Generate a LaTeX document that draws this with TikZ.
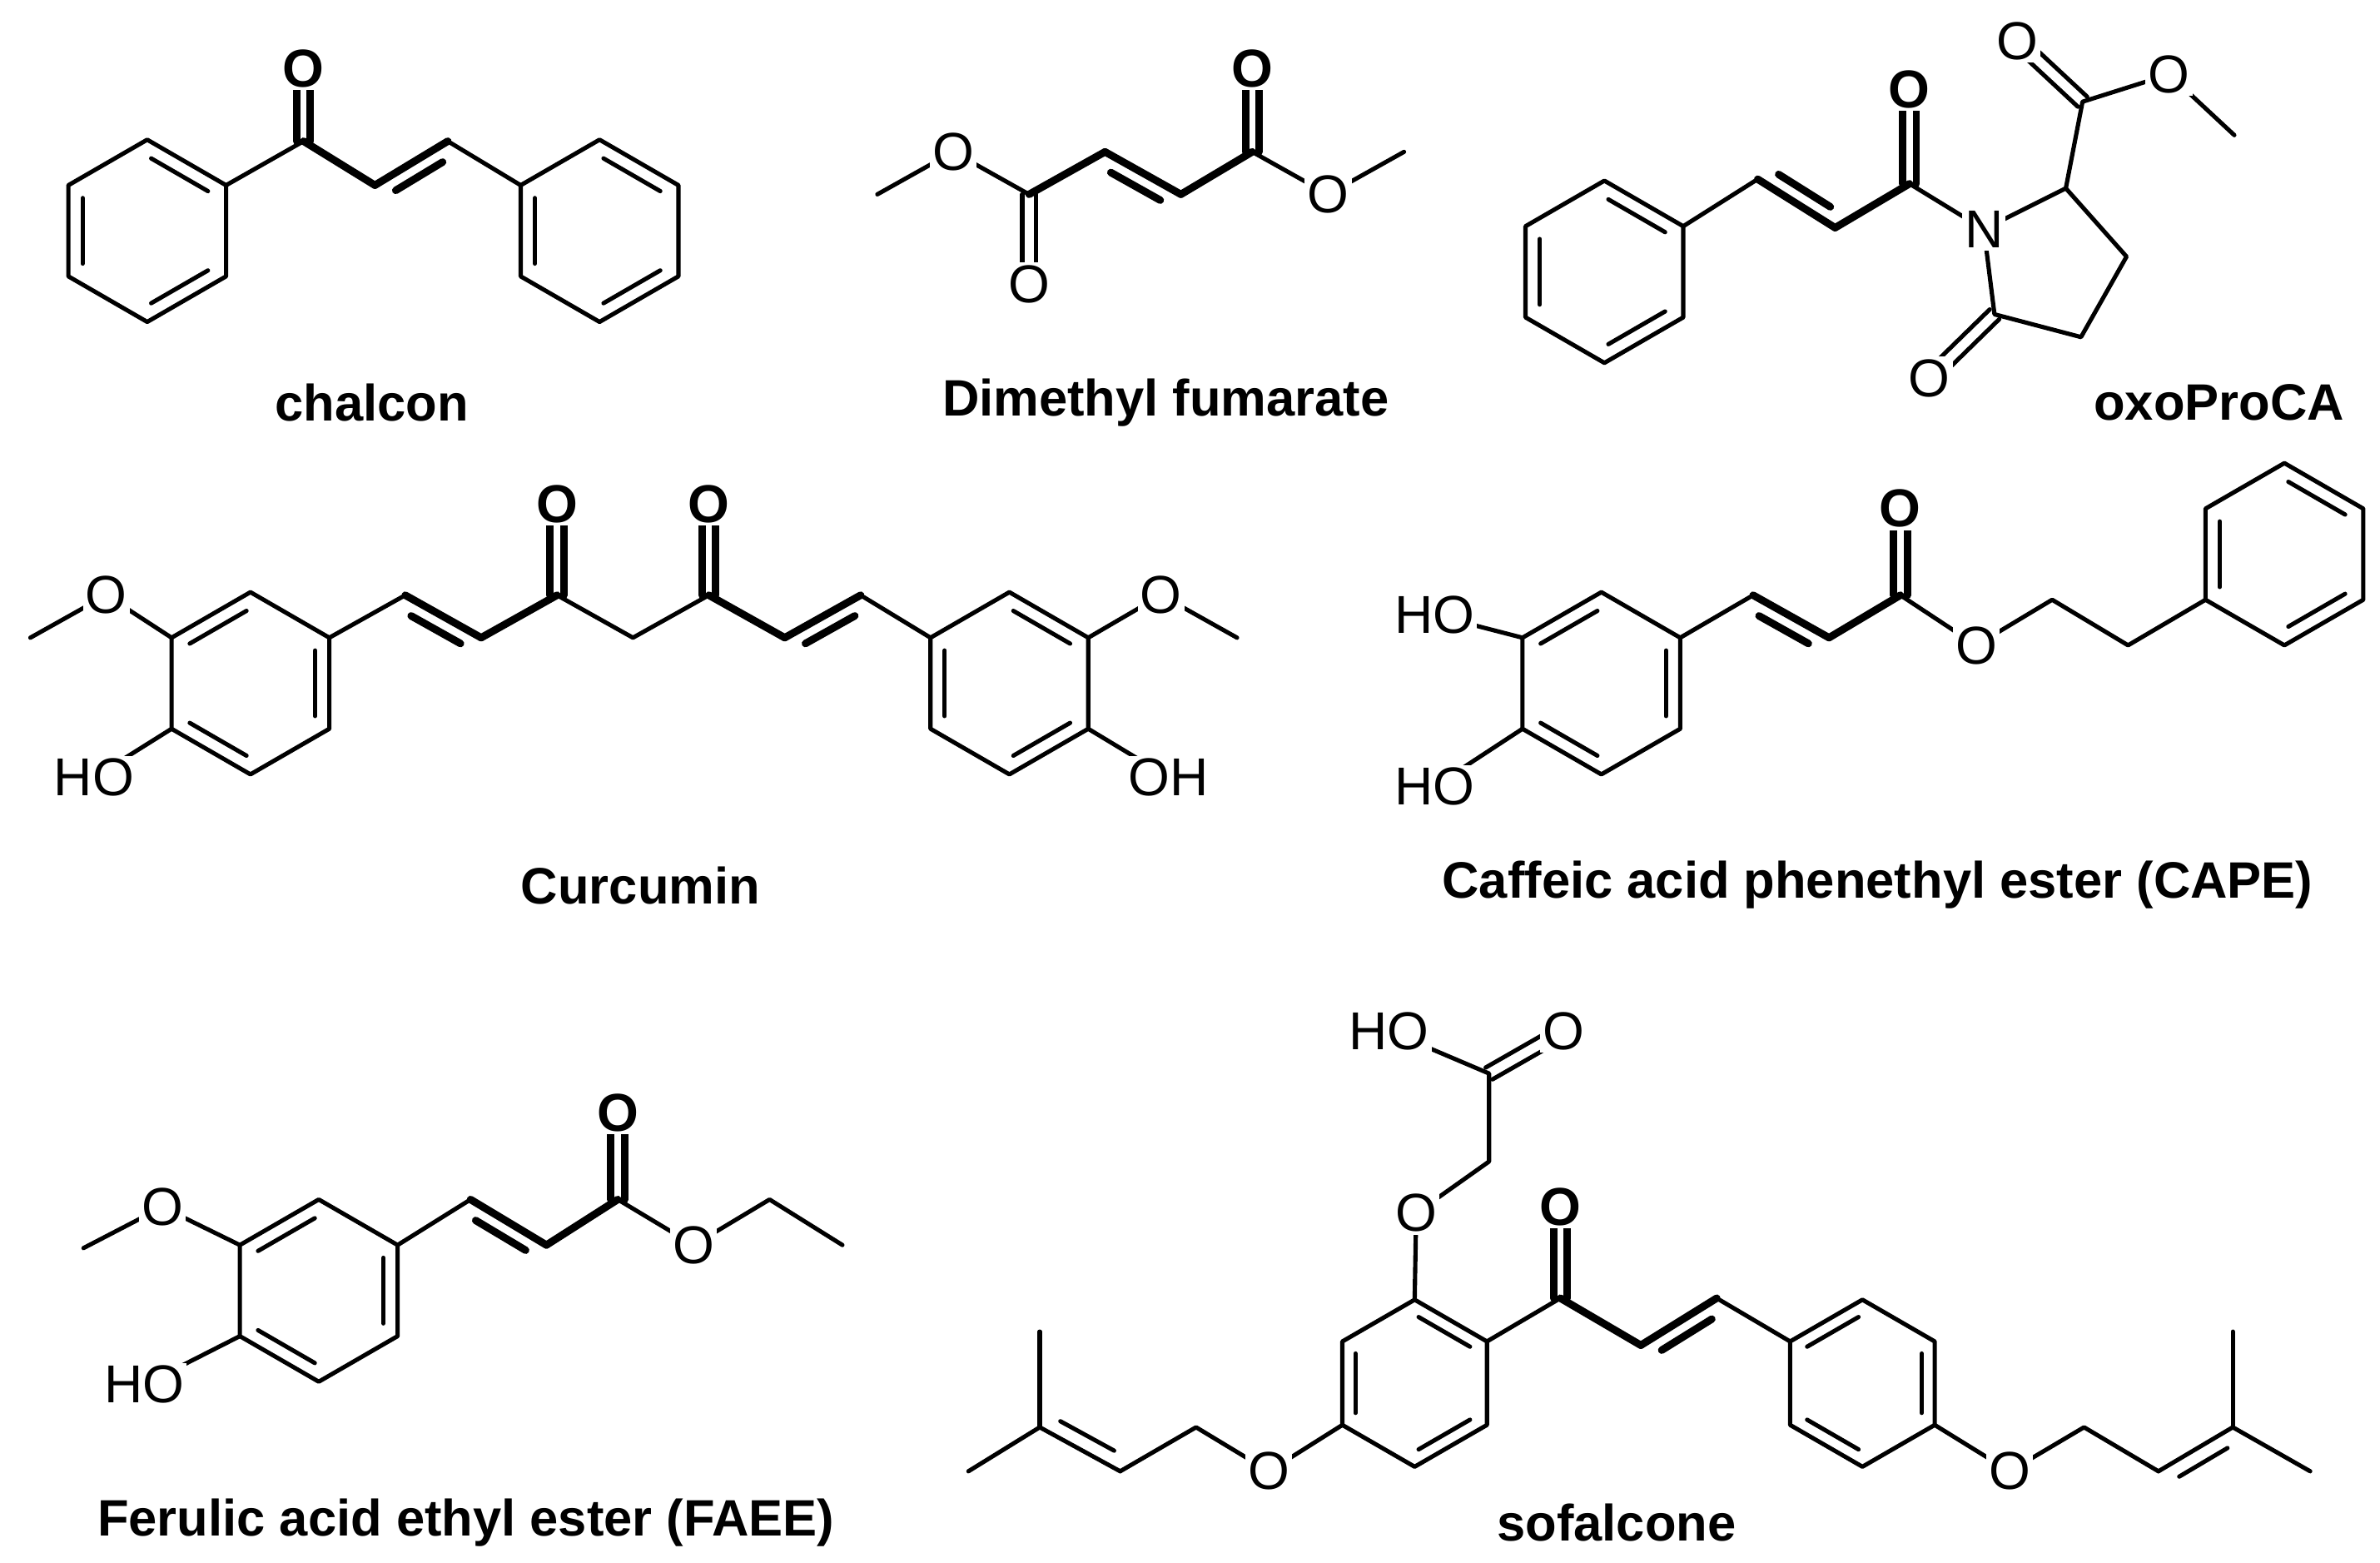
\documentclass[tikz,border=0pt]{standalone}
\usepackage{fontspec}
\setmainfont{Liberation Sans}
\usetikzlibrary{calc}
\tikzset{
    bond/.style={line width=1.6pt,line join=round,line cap=round},
    bbond/.style={line width=2.8pt,line join=round,line cap=round},
    atom/.style={fill=white,inner sep=1pt,font=\fontsize{20}{20}\selectfont},
    batom/.style={atom,font=\fontsize{20}{20}\selectfont\bfseries},
    title/.style={font=\fontsize{19.2}{19.2}\selectfont\bfseries}
}
% hexagon: name, centre x, centre y, bond length
\newcommand{\hexring}[4] {
    \path (#2,#3) coordinate (#1o)
        +(0,{-#4}) coordinate (#1a)
        +({0.866*#4},{-0.5*#4}) coordinate (#1b)
        +({0.866*#4},{0.5*#4}) coordinate (#1c)
        +(0,{#4}) coordinate (#1d)
        +({-0.866*#4},{0.5*#4}) coordinate (#1e)
        +({-0.866*#4},{-0.5*#4}) coordinate (#1f);
    \draw[bond] (#1a) -- (#1b) -- (#1c) -- (#1d) -- (#1e) -- (#1f) -- cycle;
}
\newcommand{\inb}[3] {
    \draw[bond,shorten <=0.06cm,shorten >=0.06cm] ($(#1#2)!0.18!(#1o)$) -- ($(#1#3)!0.18!(#1o)$);
}
\newcommand{\dbond}[3][bond] {
    \draw[#1] ($(#2)!0.09cm!90:(#3)$) -- ($(#3)!0.09cm!-90:(#2)$);
    \draw[#1] ($(#2)!0.09cm!-90:(#3)$) -- ($(#3)!0.09cm!90:(#2)$);
}
\newcommand{\sbond}[4][bond] {
    \pgfmathsetmacro\chsang{-(#4)}
    \draw[#1] (#2) -- (#3);
    \draw[#1,shorten <=0.2cm,shorten >=0.2cm] ($(#2)!0.2cm!#4:(#3)$) -- ($(#3)!0.2cm!\chsang:(#2)$);
}
\begin{document}
\begin{tikzpicture}[x=0.02cm,y=-0.02cm]
    \useasboundingbox (0,0) rectangle (1568,1029);
    % chalcon
    \hexring{cp}{97}{152}{60}
    \inb{cp}{a}{b} \inb{cp}{c}{d} \inb{cp}{e}{f}
    \hexring{cq}{395}{152}{60}
    \inb{cq}{a}{b} \inb{cq}{c}{d} \inb{cq}{e}{f}
    \coordinate (c1) at (200,93);
    \coordinate (c2) at (247,122);
    \coordinate (c3) at (295,93);
    \coordinate (co) at (200,45);
    \draw[bond] (cpb) -- (c1);
    \draw[bbond] (c1) -- (c2);
    \sbond[bbond]{c2}{c3}{-90}
    \draw[bond] (c3) -- (cqf);
    \dbond[bbond]{c1}{co}
    \node[batom] at (co) {O};
    \node[title] at (245,265) {chalcon};
    % dimethyl fumarate
    \coordinate (f1) at (578,128);
    \coordinate (fo1) at (628,100);
    \coordinate (f2) at (678,128);
    \coordinate (fo2) at (678,187);
    \coordinate (f3) at (728,100);
    \coordinate (f4) at (778,128);
    \coordinate (f5) at (825,100);
    \coordinate (fo3) at (825,45);
    \coordinate (fo4) at (875,128);
    \coordinate (f6) at (925,100);
    \draw[bond] (f1) -- (fo1) -- (f2);
    \dbond{f2}{fo2}
    \draw[bbond] (f2) -- (f3);
    \sbond[bbond]{f3}{f4}{-90}
    \draw[bbond] (f4) -- (f5);
    \dbond[bbond]{f5}{fo3}
    \draw[bond] (f5) -- (fo4) -- (f6);
    \node[atom] at (fo1) {O};
    \node[atom] at (fo2) {O};
    \node[batom] at (fo3) {O};
    \node[atom] at (fo4) {O};
    \node[title] at (768,265) {Dimethyl fumarate};
    % oxoProCA
    \hexring{op}{1057}{179}{60}
    \inb{op}{a}{b} \inb{op}{c}{d} \inb{op}{e}{f}
    \coordinate (o1) at (1158,118);
    \coordinate (o2) at (1209,150);
    \coordinate (o3) at (1258,121);
    \coordinate (oo1) at (1258,59);
    \coordinate (on) at (1307,151);
    \coordinate (r2) at (1361,124);
    \coordinate (r3) at (1401,169);
    \coordinate (r4) at (1371,222);
    \coordinate (r5) at (1314,207);
    \coordinate (oo5) at (1271,249);
    \coordinate (oe) at (1372,67);
    \coordinate (oo2) at (1329,27);
    \coordinate (oo3) at (1429,49);
    \coordinate (om) at (1472,89);
    \draw[bond] (opb) -- (o1);
    \sbond[bbond]{o1}{o2}{90}
    \draw[bbond] (o2) -- (o3);
    \dbond[bbond]{o3}{oo1}
    \draw[bond] (o3) -- (on) -- (r2) -- (r3) -- (r4) -- (r5) -- (on);
    \dbond{r5}{oo5}
    \draw[bond] (r2) -- (oe) -- (oo3) -- (om);
    \dbond{oe}{oo2}
    \node[batom] at (oo1) {O};
    \node[atom] at (on) {N};
    \node[atom] at (oo5) {O};
    \node[atom] at (oo2) {O};
    \node[atom] at (oo3) {O};
    \node[title] at (1462,265) {oxoProCA};
    % curcumin
    \hexring{kl}{165}{450}{60}
    \inb{kl}{b}{c} \inb{kl}{d}{e} \inb{kl}{f}{a}
    \hexring{kr}{665}{450}{60}
    \inb{kr}{a}{b} \inb{kr}{c}{d} \inb{kr}{e}{f}
    \coordinate (km1) at (20,420);
    \coordinate (ko1) at (70,392);
    \coordinate (kh1) at (62,512);
    \coordinate (k1) at (267,392);
    \coordinate (k2) at (317,420);
    \coordinate (k3) at (367,392);
    \coordinate (kc1) at (367,332);
    \coordinate (k4) at (417,420);
    \coordinate (k5) at (467,392);
    \coordinate (kc2) at (467,332);
    \coordinate (k6) at (517,420);
    \coordinate (k7) at (567,392);
    \coordinate (ko2) at (765,392);
    \coordinate (km2) at (815,420);
    \coordinate (kh2) at (770,512);
    \draw[bond] (km1) -- (ko1) -- (klf);
    \draw[bond] (kh1) -- (kle);
    \draw[bond] (klb) -- (k1);
    \sbond[bbond]{k1}{k2}{-90}
    \draw[bbond] (k2) -- (k3);
    \dbond[bbond]{k3}{kc1}
    \draw[bond] (k3) -- (k4) -- (k5);
    \dbond[bbond]{k5}{kc2}
    \draw[bbond] (k5) -- (k6);
    \sbond[bbond]{k6}{k7}{-90}
    \draw[bond] (k7) -- (krf);
    \draw[bond] (krb) -- (ko2) -- (km2);
    \draw[bond] (krc) -- (kh2);
    \node[atom] at (ko1) {O};
    \node[atom] at (kh1) {HO};
    \node[batom] at (kc1) {O};
    \node[batom] at (kc2) {O};
    \node[atom] at (ko2) {O};
    \node[atom] at (kh2) {OH};
    \node[title] at (422,583) {Curcumin};
    % CAPE
    \hexring{ca}{1055}{450}{60}
    \inb{ca}{b}{c} \inb{ca}{d}{e} \inb{ca}{f}{a}
    \hexring{cb}{1505}{365}{60}
    \inb{cb}{a}{b} \inb{cb}{c}{d} \inb{cb}{e}{f}
    \coordinate (ah1) at (945,405);
    \coordinate (ah2) at (945,518);
    \coordinate (a1) at (1155,392);
    \coordinate (a2) at (1205,420);
    \coordinate (a3) at (1252,392);
    \coordinate (ao1) at (1252,335);
    \coordinate (ao2) at (1302,425);
    \coordinate (a4) at (1352,395);
    \coordinate (a5) at (1402,425);
    \draw[bond] (ah1) -- (caf);
    \draw[bond] (ah2) -- (cae);
    \draw[bond] (cab) -- (a1);
    \sbond[bbond]{a1}{a2}{-90}
    \draw[bbond] (a2) -- (a3);
    \dbond[bbond]{a3}{ao1}
    \draw[bond] (a3) -- (ao2) -- (a4) -- (a5) -- (cbe);
    \node[atom] at (ah1) {HO};
    \node[atom] at (ah2) {HO};
    \node[batom] at (ao1) {O};
    \node[atom] at (ao2) {O};
    \node[title] at (1237,583) {Caffeic acid phenethyl ester (CAPE)};
    % FAEE
    \hexring{fa}{210}{850}{60}
    \inb{fa}{b}{c} \inb{fa}{d}{e} \inb{fa}{f}{a}
    \coordinate (em) at (55,822);
    \coordinate (eo1) at (107,795);
    \coordinate (eh) at (95,912);
    \coordinate (e1) at (310,790);
    \coordinate (e2) at (360,820);
    \coordinate (e3) at (407,790);
    \coordinate (eo2) at (407,733);
    \coordinate (eo3) at (457,820);
    \coordinate (e4) at (507,790);
    \coordinate (e5) at (555,820);
    \draw[bond] (em) -- (eo1) -- (faf);
    \draw[bond] (eh) -- (fae);
    \draw[bond] (fab) -- (e1);
    \sbond[bbond]{e1}{e2}{-90}
    \draw[bbond] (e2) -- (e3);
    \dbond[bbond]{e3}{eo2}
    \draw[bond] (e3) -- (eo3) -- (e4) -- (e5);
    \node[atom] at (eo1) {O};
    \node[atom] at (eh) {HO};
    \node[batom] at (eo2) {O};
    \node[atom] at (eo3) {O};
    \node[title] at (307,1003) {Ferulic acid ethyl ester (FAEE)};
    % sofalcone
    \hexring{sa}{932}{911}{55}
    \inb{sa}{a}{b} \inb{sa}{c}{d} \inb{sa}{e}{f}
    \hexring{sb}{1227}{911}{55}
    \inb{sb}{f}{a} \inb{sb}{b}{c} \inb{sb}{d}{e}
    \coordinate (sh) at (915,679);
    \coordinate (so1) at (1030,679);
    \coordinate (s1) at (981,707);
    \coordinate (s2) at (981,765);
    \coordinate (so2) at (933,799);
    \coordinate (s3) at (1028,855);
    \coordinate (so3) at (1028,795);
    \coordinate (s4) at (1081,886);
    \coordinate (s5) at (1131,855);
    \coordinate (so4) at (836,969);
    \coordinate (p1) at (788,940);
    \coordinate (p2) at (738,969);
    \coordinate (p3) at (685,940);
    \coordinate (p4) at (685,877);
    \coordinate (p5) at (638,969);
    \coordinate (so5) at (1324,969);
    \coordinate (q1) at (1373,940);
    \coordinate (q2) at (1422,969);
    \coordinate (q3) at (1471,940);
    \coordinate (q4) at (1471,877);
    \coordinate (q5) at (1522,969);
    \draw[bond] (sh) -- (s1) -- (s2) -- (so2) -- (saa);
    \dbond{s1}{so1}
    \draw[bond] (sab) -- (s3);
    \dbond[bbond]{s3}{so3}
    \draw[bbond] (s3) -- (s4);
    \sbond[bbond]{s4}{s5}{-90}
    \draw[bond] (s5) -- (sbf);
    \draw[bond] (sae) -- (so4) -- (p1) -- (p2);
    \sbond{p2}{p3}{-90}
    \draw[bond] (p3) -- (p4);
    \draw[bond] (p3) -- (p5);
    \draw[bond] (sbc) -- (so5) -- (q1) -- (q2);
    \sbond{q2}{q3}{-90}
    \draw[bond] (q3) -- (q4);
    \draw[bond] (q3) -- (q5);
    \node[atom] at (sh) {HO};
    \node[atom] at (so1) {O};
    \node[atom] at (so2) {O};
    \node[batom] at (so3) {O};
    \node[atom] at (so4) {O};
    \node[atom] at (so5) {O};
    \node[title] at (1065,1003) {sofalcone};
\end{tikzpicture}
\end{document}
